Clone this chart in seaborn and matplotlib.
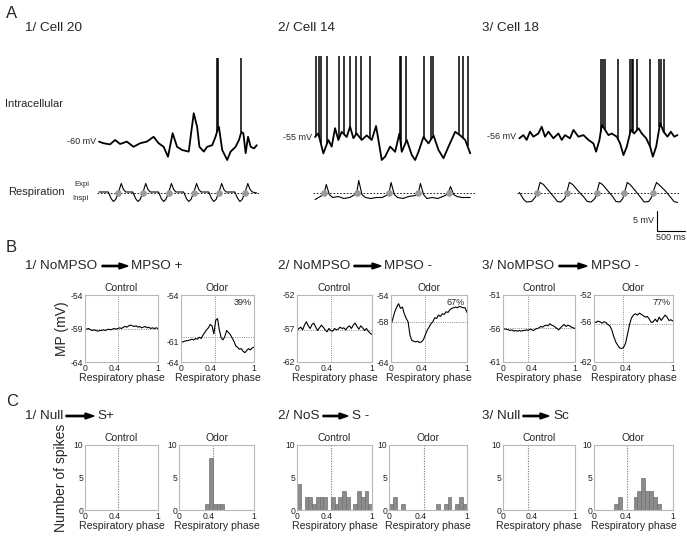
import numpy as np
import pandas as pd
import matplotlib
matplotlib.use("Agg")
import matplotlib.pyplot as plt
import seaborn as sns

sns.set_theme(style="white")
plt.rcParams['font.family'] = ['Liberation Sans', 'DejaVu Sans']

# ---------------- DATA ----------------
# Panel A: intracellular traces (time ms, membrane potential mV)
c1_t = [36, 113, 232, 321, 411, 530, 649, 768, 887, 1006, 1095, 1185, 1262, 1345, 1423, 1512, 1631, 1673,
        1720, 1780, 1821, 1899, 1958, 2048, 2107, 2143, 2167, 2226, 2315, 2375, 2464, 2524, 2566, 2602,
        2643, 2685, 2732, 2792, 2840]
c1_v = [-59.9, -60.3, -60.6, -59.5, -60.5, -59.9, -61.2, -60.3, -59.9, -58.7, -60.3, -61.2, -63.7, -57.8,
        -61.2, -62.0, -62.4, -57.8, -52.8, -56.2, -61.2, -62.4, -61.2, -60.8, -58.7, -57.0, -56.2, -62.0,
        -64.5, -62.4, -61.2, -59.5, -57.5, -57.8, -62.8, -58.7, -61.2, -61.6, -60.8]
c1_spikes = [2135, 2150, 2566]
c1_spike_top = -39.0
c1_rest = -60
c1_odor = [1232, 2875]

c2_t = [36, 95, 184, 273, 332, 392, 451, 510, 599, 659, 718, 777, 866, 955, 1044, 1121, 1163, 1222, 1282,
        1371, 1460, 1537, 1578, 1667, 1756, 1816, 1875, 1964, 2053, 2142, 2231, 2320, 2409, 2528, 2617,
        2706, 2795]
c2_v = [-55.0, -54.1, -59.1, -55.75, -57.4, -52.8, -55.75, -53.7, -55.0, -52.4, -55.3, -54.1, -55.75, -54.6,
        -55.75, -52.25, -55.75, -60.75, -59.9, -57.4, -58.7, -54.1, -58.7, -55.75, -59.5, -60.75, -58.7,
        -55.0, -56.6, -54.6, -58.25, -60.3, -57.4, -53.7, -54.6, -55.75, -59.1]
c2_spikes = [53, 113, 137, 255, 463, 552, 659, 765, 849, 1015, 1549, 1566, 1650, 1976, 2095, 2142, 2587,
             2664, 2747]
c2_spike_top = -34.75
c2_rest = -55
c2_odor = [1180, 2795]

c3_t = [42, 113, 172, 231, 291, 380, 439, 498, 558, 647, 736, 795, 854, 943, 1003, 1092, 1181, 1270, 1359,
        1406, 1466, 1507, 1566, 1626, 1685, 1774, 1833, 1893, 1952, 2024, 2083, 2160, 2219, 2296, 2367,
        2415, 2474, 2545, 2605, 2676, 2735, 2795, 2853]
c3_v = [-56.4, -55.6, -56.8, -54.75, -56.0, -55.2, -53.5, -56.0, -54.75, -56.4, -55.2, -56.8, -55.6, -56.4,
        -54.3, -56.0, -55.6, -56.8, -57.7, -59.75, -56.8, -53.1, -54.3, -55.6, -55.2, -56.0, -57.7, -60.6,
        -58.5, -54.3, -55.2, -53.9, -55.2, -56.4, -58.5, -61.0, -58.5, -52.6, -54.75, -56.0, -54.75, -56.0,
        -55.6]
c3_spikes = [1489, 1525, 1566, 1804, 2011, 2041, 2059, 2142, 2367, 2533, 2563, 2622]
c3_spike_top = -36.6
c3_rest = -56
c3_odor = [1151, 2771]

# Panel A: respiration (time ms, arbitrary units; + = expiration)
r1_t = [36, 201, 251, 291, 331, 381, 431, 471, 511, 636, 686, 726, 766, 816, 866, 906, 946, 1093, 1143,
        1183, 1223, 1273, 1323, 1363, 1403, 1540, 1590, 1630, 1670, 1720, 1770, 1810, 1850, 1986, 2036,
        2076, 2116, 2166, 2216, 2256, 2296, 2451, 2501, 2541, 2581, 2631, 2681, 2721, 2761, 2840]
r1_v = [0.5, 0.5, -6, -9, -7, 0, 9, 3, 0.5, 0.5, -6, -9, -7, 0, 9, 3, 0.5, 0.5, -6, -9, -7, 0, 9, 3, 0.5,
        0.5, -6, -9, -7, 0, 9, 3, 0.5, 0.5, -6, -9, -7, 0, 9, 3, 0.5, 0.5, -6, -9, -7, 0, 9, 3, 0.5, -0.5]
r1_dots = [381, 816, 1273, 1720, 2166, 2631]

r2_t = [36, 100, 160, 201, 236, 290, 350, 450, 550, 650, 720, 778, 813, 870, 930, 1030, 1130, 1230, 1300,
        1353, 1388, 1445, 1505, 1600, 1700, 1820, 1875, 1910, 1965, 2025, 2120, 2220, 2350, 2409, 2444,
        2500, 2560, 2650, 2795]
r2_v = [-7, -5, -3, 0, 8, -2, -5, -4, -6, -5, -3, 0, 12, -2, -5, -6, -5, -5, -3, 0, 10, -2, -5, -6, -4,
        -3, 0, 9, -2, -6, -5, -6, -3, 0, 6, -2, -4, -5, -5]
r2_dots = [201, 778, 1353, 1875, 2409]

r3_t = [42, 120, 170, 260, 320, 362, 410, 470, 560, 650, 720, 780, 850, 885, 930, 990, 1080, 1180, 1250,
        1320, 1385, 1419, 1465, 1520, 1610, 1700, 1760, 1830, 1880, 1911, 1960, 2010, 2100, 2200, 2260,
        2340, 2390, 2415, 2480, 2540, 2630, 2720, 2790, 2853]
r3_v = [0, -7, -9.5, -9, -5, 0, 10, 8, 2, -4, -9, -9.5, -6, 0, 10, 8, 2, -4, -9, -9.5, -6, 0, 10, 8, 2,
        -4, -9, -9.5, -6, 0, 10, 8, 2, -5, -9.5, -9, -5, 0, 10, 7, 2, -4, -9, -10]
r3_dots = [362, 885, 1419, 1911, 2415]

# Panel B: membrane potential vs respiratory phase (phase step 0.025)
phase_b = [i / 40 for i in range(41)]
b1_control = [-59.0, -59.1, -59.0, -59.2, -59.3, -59.2, -59.3, -59.4, -59.3, -59.3, -59.2, -59.3, -59.2,
              -59.1, -59.2, -59.1, -59.0, -59.1, -59.0, -58.9, -59.0, -58.8, -58.7, -58.8, -58.6, -58.5,
              -58.6, -58.7, -58.6, -58.8, -58.7, -58.9, -58.8, -58.7, -58.9, -58.8, -59.0, -58.9, -59.0,
              -58.9, -59.0]
b1_odor = [-61.0, -61.0, -60.9, -60.8, -60.8, -60.7, -60.6, -60.7, -60.5, -60.6, -60.3, -60.5, -60.0,
           -59.6, -59.2, -58.9, -58.4, -58.6, -59.8, -57.8, -57.5, -59.2, -60.4, -60.7, -60.2, -59.3,
           -59.6, -59.9, -60.4, -60.9, -61.6, -61.8, -62.1, -62.0, -62.4, -62.6, -62.3, -62.0, -62.2,
           -61.9, -61.8]
b2_control = [-57.3, -57.0, -56.8, -57.2, -56.5, -56.0, -56.6, -57.0, -56.4, -56.2, -56.8, -57.3, -56.9,
              -56.5, -56.8, -57.2, -57.5, -57.0, -57.3, -57.4, -57.0, -57.2, -57.1, -56.8, -57.0, -56.9,
              -57.2, -56.8, -56.6, -57.0, -56.5, -56.2, -56.7, -57.1, -56.6, -56.9, -57.3, -57.0, -57.4,
              -57.7, -57.9]
b2_odor = [-58.5, -57.5, -56.5, -55.8, -55.3, -56.0, -55.8, -56.8, -57.5, -58.0, -60.0, -60.8, -60.9,
           -61.0, -60.9, -61.1, -61.0, -60.7, -60.0, -59.3, -58.8, -58.3, -58.0, -57.4, -57.5, -57.0,
           -57.2, -56.8, -56.9, -56.5, -56.6, -56.2, -56.0, -55.9, -55.8, -55.9, -55.7, -55.8, -55.9,
           -55.9, -56.6]
b3_control = [-56.0, -56.1, -56.1, -56.2, -56.3, -56.2, -56.4, -56.3, -56.4, -56.3, -56.4, -56.3, -56.3,
              -56.2, -56.3, -56.1, -56.2, -56.3, -56.1, -56.0, -55.9, -55.7, -55.8, -55.6, -55.5, -55.6,
              -55.3, -55.5, -55.6, -55.8, -56.0, -56.2, -55.9, -55.6, -55.4, -55.7, -55.5, -55.6, -55.8,
              -55.9, -56.0]
b3_odor = [-56.0, -56.1, -55.9, -56.0, -56.2, -56.0, -56.1, -56.4, -56.6, -57.2, -58.2, -59.0, -59.5,
           -59.9, -60.0, -59.8, -59.2, -57.8, -56.4, -55.4, -55.0, -54.8, -55.0, -54.7, -54.9, -55.1,
           -55.3, -55.2, -55.6, -56.1, -56.0, -55.6, -56.0, -55.3, -55.8, -55.4, -55.0, -55.3, -55.8,
           -55.7, -55.9]
b_ylims = [(-64, -54), (-64, -54), (-62, -52), (-64, -54), (-61, -51), (-62, -52)]
b_midticks = [-59, -61, -57, -58, -56, -56]
b_means = [-59.0, -60.3, -57.2, -58.0, -56.0, -56.3]
b_percent = ["39%", "67%", "77%"]

# Panel C: spike counts per respiratory-phase bin (20 bins)
bin_edges = [i / 20 for i in range(21)]
c1_control = [0] * 20
c1_odor = [0, 0, 0, 0, 0, 0, 0, 1, 8, 1, 1, 1, 0, 0, 0, 0, 0, 0, 0, 0]
c2_control = [4, 0, 2, 2, 1, 2, 2, 2, 0, 2, 1, 2, 3, 2, 0, 1, 3, 2, 3, 1]
c2_odor = [1, 2, 0, 1, 0, 0, 0, 0, 0, 0, 0, 0, 1, 0, 1, 2, 0, 1, 2, 1]
c3_control = [0] * 20
c3_odor = [0, 0, 0, 0, 0, 1, 2, 0, 0, 0, 2, 3, 5, 3, 3, 2, 1, 0, 0, 0]

# transition phase (dotted verticals)
b_transition = [0.45, 0.46, 0.45, 0.45, 0.35, 0.37]
c_transition = [0.45, 0.45, 0.45, 0.45, 0.35, 0.42]

# ---------------- FIGURE ----------------
W, H = 687, 536
fig = plt.figure(figsize=(W / 100, H / 100), dpi=100)


def add_ax(l, t, w, h):
    return fig.add_axes([l / W, 1 - (t + h) / H, w / W, h / H])


def ftext(x, y, s, **kw):
    fig.text(x / W, 1 - y / H, s, **kw)


TFS = 9.7  # title font size

# --- Panel A ---
ftext(6, 13, "A", fontsize=12, va="center")
cells = [
    (97, "1/ Cell 20", c1_t, c1_v, c1_spikes, c1_spike_top, c1_rest, c1_odor, r1_t, r1_v, r1_dots, "-60 mV"),
    (313, "2/ Cell 14", c2_t, c2_v, c2_spikes, c2_spike_top, c2_rest, c2_odor, r2_t, r2_v, r2_dots, "-55 mV"),
    (517, "3/ Cell 18", c3_t, c3_v, c3_spikes, c3_spike_top, c3_rest, c3_odor, r3_t, r3_v, r3_dots, "-56 mV"),
]
rest_px = [142, 137, 136.7]
title_x = [25, 278, 482]
for k, (left, title, t, v, spk, top, rest, odor, rt, rv, rdots, rlabel) in enumerate(cells):
    ftext(title_x[k], 28, title, fontsize=TFS, va="center")
    ax = add_ax(left, 45, 162, 120)
    ymax = rest + (rest_px[k] - 45) / 4
    ymin = ymax - 30
    df = pd.DataFrame({"t": t, "v": v})
    sns.lineplot(data=df, x="t", y="v", ax=ax, color="black", lw=1.3, estimator=None)
    base = np.interp(spk, t, v)
    ax.vlines(spk, base, top, color="black", lw=1.1)
    ax.hlines(ymax - 1.6, odor[0], odor[1], color="black", lw=1.6, clip_on=False)
    ax.text(-10, rest, rlabel, ha="right", va="center", fontsize=6.5)
    ax.set_xlim(0, 2880)
    ax.set_ylim(ymin, ymax)
    ax.axis("off")
    if k == 2:
        # scale bar: 5 mV / 500 ms
        sx = (657 - left) * 17.8
        sy = ymin - (231 - 165) / 4
        ax.plot([sx, sx, sx + 500], [sy + 5, sy, sy], color="black", lw=0.8, clip_on=False)
        ax.text(sx - 60, sy + 2.5, "5 mV", ha="right", va="center", fontsize=6.5)
        ax.text(sx + 250, sy - 0.5, "500 ms", ha="center", va="top", fontsize=6.5)

    rax = add_ax(left, 175, 162, 35)
    rdf = pd.DataFrame({"t": rt, "v": rv})
    rax.axhline(0, color="black", lw=0.6, ls=(0, (2, 2)))
    sns.lineplot(data=rdf, x="t", y="v", ax=rax, color="black", lw=0.8, estimator=None)
    rax.scatter(rdots, np.interp(rdots, rt, rv), s=14, color="#9a9a9a", zorder=3)
    rax.set_xlim(0, 2880)
    rax.set_ylim(-17.5, 17.5)
    rax.axis("off")

ftext(5, 104, "Intracellular", fontsize=8, va="center")
ftext(8, 192, "Respiration", fontsize=8, va="center")
ftext(74, 185, "Expi", fontsize=5.5, va="center")
ftext(72, 199, "Inspi", fontsize=5.5, va="center")

# --- Panel B & C small axes ---
group_lefts = [(85, 73, 181, 73), (297, 75, 391, 76), (503, 72, 594, 79)]
c_lefts = [(85, 73, 179, 75), (297, 75, 389, 78), (503, 72, 594, 79)]
b_traces = [(b1_control, b1_odor), (b2_control, b2_odor), (b3_control, b3_odor)]
c_counts = [(c1_control, c1_odor), (c2_control, c2_odor), (c3_control, c3_odor)]
spine_col = "#b8b8b8"


def style_small(ax, title):
    for s in ax.spines.values():
        s.set_color(spine_col)
        s.set_linewidth(0.8)
    ax.tick_params(length=0, labelsize=6.2, pad=1.2, colors="#222222")
    ax.set_title(title, fontsize=7.5, pad=3)
    ax.set_xlim(0, 1)
    ax.set_xticks([0, 0.4, 1], labels=["0", "0.4", "1"])
    ax.set_xlabel("Respiratory phase", fontsize=7.6, labelpad=0)
    ax.set_ylabel("")


ftext(6, 248, "B", fontsize=12, va="center")
ftext(6, 402, "C", fontsize=12, va="center")
b_titles = [("1/ NoMPSO", "MPSO +"), ("2/ NoMPSO", "MPSO -"), ("3/ NoMPSO", "MPSO -")]
c_titles = [("1/ Null", "S+"), ("2/ NoS", "S -"), ("3/ Null", "Sc")]

for g in range(3):
    gx = title_x[g]
    ftext(gx, 266, b_titles[g][0], fontsize=TFS, va="center")
    ftext(gx, 416, c_titles[g][0], fontsize=TFS, va="center")
    lc, wc, lo, wo = group_lefts[g]
    for j, (l, w, title) in enumerate([(lc, wc, "Control"), (lo, wo, "Odor")]):
        idx = g * 2 + j
        ax = add_ax(l, 295, w, 67)
        df = pd.DataFrame({"phase": phase_b, "mp": b_traces[g][j]})
        ax.axvline(b_transition[idx], color="#888888", lw=0.7, ls=(0, (1, 1.3)))
        ax.axhline(b_means[idx], color="#888888", lw=0.7, ls=(0, (1, 1.3)))
        sns.lineplot(data=df, x="phase", y="mp", ax=ax, color="black", lw=0.8, estimator=None)
        lo_, hi_ = b_ylims[idx]
        ax.set_ylim(lo_, hi_)
        ax.set_yticks([lo_, b_midticks[idx], hi_], labels=[str(lo_), str(b_midticks[idx]), str(hi_)])
        style_small(ax, title)
        if j == 1:
            ax.text(0.97, 0.95, b_percent[g], transform=ax.transAxes, ha="right", va="top", fontsize=6.5)
        if idx == 0:
            ax.set_ylabel("MP (mV)", fontsize=10, labelpad=1)

    lc, wc, lo, wo = c_lefts[g]
    for j, (l, w, title) in enumerate([(lc, wc, "Control"), (lo, wo, "Odor")]):
        idx = g * 2 + j
        ax = add_ax(l, 445, w, 65)
        centers = [(bin_edges[i] + bin_edges[i + 1]) / 2 for i in range(20)]
        df = pd.DataFrame({"phase": centers, "n": c_counts[g][j]})
        sns.histplot(data=df, x="phase", weights="n", bins=bin_edges, ax=ax, color="#8c8c8c",
                     edgecolor="#6f6f6f", linewidth=0.5, alpha=1)
        ax.axvline(c_transition[idx], color="#777777", lw=0.8, ls=(0, (1, 1.3)))
        ax.set_ylim(0, 10)
        ax.set_yticks([0, 5, 10], labels=["0", "5", "10"])
        style_small(ax, title)
        if idx == 0:
            ax.set_ylabel("Number of spikes", fontsize=10, labelpad=4)

# group titles with arrows (x start, x end, x of right-hand text)
arrow_pos_b = [(102, 128, 131), (354, 381, 384), (559, 587, 591)]
arrow_pos_c = [(66, 94, 97), (323, 348, 352), (523, 549, 553)]
for g in range(3):
    for yy, ap, rt_ in [(266, arrow_pos_b[g], b_titles[g][1]), (416, arrow_pos_c[g], c_titles[g][1])]:
        x0, x1, xr = ap
        fig.patches.append(matplotlib.patches.FancyArrow(
            x0 / W, 1 - yy / H, (x1 - x0 - 9) / W, 0, width=1.3 / H, head_width=6 / H,
            head_length=9 / W, length_includes_head=False, color="black", transform=fig.transFigure))
        ftext(xr, yy, rt_, fontsize=TFS, va="center")

fig.savefig("out.png", dpi=100)
